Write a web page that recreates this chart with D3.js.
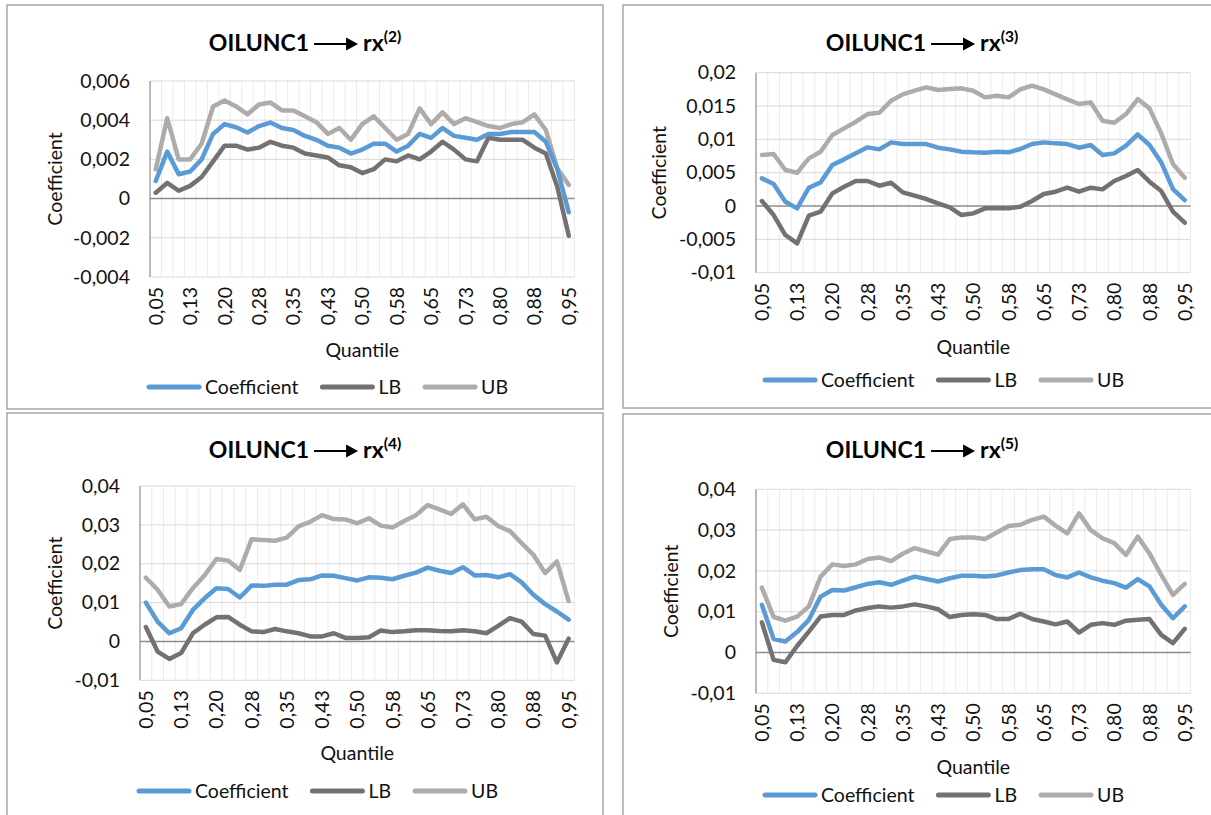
<!DOCTYPE html>
<html>
<head>
<meta charset="utf-8">
<script src="https://cdn.jsdelivr.net/npm/d3@7"></script>
<style>
  body { margin: 0; background: #fff; }
  svg { display: block; }
  text { font-family: Lato, "Open Sans", sans-serif; }
</style>
</head>
<body>
<svg id="chart" width="1211" height="815"></svg>
<script>
// Quantile grid shared by all four regressions
const quantiles = [0.05, 0.075, 0.1, 0.125, 0.15, 0.175, 0.2, 0.225, 0.25, 0.275, 0.3, 0.325,
  0.35, 0.375, 0.4, 0.425, 0.45, 0.475, 0.5, 0.525, 0.55, 0.575, 0.6, 0.625, 0.65, 0.675,
  0.7, 0.725, 0.75, 0.775, 0.8, 0.825, 0.85, 0.875, 0.9, 0.925, 0.95];
// Labels printed on every third category
const quantileTickLabels = ["0,05", "0,13", "0,20", "0,28", "0,35", "0,43", "0,50",
  "0,58", "0,65", "0,73", "0,80", "0,88", "0,95"];
const seriesNames = ["Coefficient", "LB", "UB"];

// OILUNC1 -> rx(2)
const coefRx2 = [0.0009, 0.0024, 0.00124, 0.00138, 0.002, 0.0033, 0.0038, 0.00364, 0.00337, 0.0037,
  0.00388, 0.0036, 0.0035, 0.0032, 0.003, 0.0027, 0.0026, 0.0023, 0.0025, 0.0028,
  0.0028, 0.0024, 0.0027, 0.0033, 0.0031, 0.0036, 0.0032, 0.0031, 0.003, 0.0033,
  0.0033, 0.0034, 0.0034, 0.0034, 0.0029, 0.0015, -0.0007];
const lbRx2 = [0.0003, 0.0008, 0.0004, 0.00065, 0.0011, 0.0019, 0.0027, 0.0027, 0.0025, 0.0026,
  0.0029, 0.0027, 0.0026, 0.0023, 0.0022, 0.0021, 0.0017, 0.0016, 0.0013, 0.0015,
  0.002, 0.0019, 0.0022, 0.002, 0.0024, 0.0029, 0.0025, 0.002, 0.0019, 0.0031,
  0.003, 0.003, 0.003, 0.0026, 0.0023, 0.0006, -0.0019];
const ubRx2 = [0.0015, 0.0041, 0.002, 0.002, 0.0028, 0.0047, 0.005, 0.0047, 0.0043, 0.0048,
  0.0049, 0.0045, 0.0045, 0.0042, 0.0039, 0.0033, 0.0036, 0.003, 0.0038, 0.0042,
  0.0036, 0.003, 0.0033, 0.0046, 0.0038, 0.0044, 0.0038, 0.0041, 0.0039, 0.0037,
  0.0036, 0.0038, 0.0039, 0.0043, 0.0035, 0.00155, 0.0007];

// OILUNC1 -> rx(3)
const coefRx3 = [0.00415, 0.0033, 0.00065, -0.00035, 0.00275, 0.00355, 0.00615, 0.007, 0.0079, 0.0088,
  0.0085, 0.00955, 0.0093, 0.0093, 0.0093, 0.00875, 0.0085, 0.00815, 0.00805, 0.008,
  0.00815, 0.00805, 0.00855, 0.0093, 0.00955, 0.0094, 0.0093, 0.00875, 0.00915, 0.00765,
  0.0079, 0.00905, 0.01075, 0.00915, 0.00655, 0.00255, 0.0009];
const lbRx3 = [0.00075, -0.00135, -0.00435, -0.0056, -0.00145, -0.00085, 0.0019, 0.0029, 0.00375, 0.00375,
  0.00305, 0.0035, 0.00205, 0.00155, 0.00105, 0.0004, -0.0002, -0.00135, -0.0011, -0.00035,
  -0.00035, -0.00035, -0.0001, 0.00075, 0.0018, 0.00215, 0.00275, 0.00215, 0.00275, 0.0025,
  0.00375, 0.0045, 0.0054, 0.00365, 0.00225, -0.00085, -0.0025];
const ubRx3 = [0.00765, 0.0078, 0.0054, 0.005, 0.00715, 0.00815, 0.01065, 0.01165, 0.01265, 0.0138,
  0.014, 0.0158, 0.01675, 0.0173, 0.0178, 0.0174, 0.01755, 0.01765, 0.0173, 0.0163,
  0.01655, 0.0163, 0.0175, 0.01805, 0.0175, 0.01675, 0.016, 0.0153, 0.01555, 0.0128,
  0.0125, 0.0138, 0.01605, 0.01465, 0.0109, 0.0063, 0.00425];

// OILUNC1 -> rx(4)
const coefRx4 = [0.01, 0.0051, 0.0021, 0.0034, 0.0081, 0.0111, 0.0137, 0.0135, 0.0113, 0.0144,
  0.0143, 0.0146, 0.0146, 0.0158, 0.016, 0.017, 0.0169, 0.0163, 0.0157, 0.0165,
  0.0164, 0.016, 0.0169, 0.0177, 0.019, 0.0182, 0.0176, 0.0191, 0.017, 0.0171,
  0.0165, 0.0173, 0.0152, 0.012, 0.0096, 0.0077, 0.0056];
const lbRx4 = [0.0037, -0.0026, -0.0045, -0.003, 0.0021, 0.0043, 0.0062, 0.0063, 0.0043, 0.0026,
  0.0024, 0.0032, 0.0026, 0.0021, 0.0013, 0.0013, 0.0021, 0.0009, 0.0009, 0.0011,
  0.0028, 0.0024, 0.0026, 0.0029, 0.0029, 0.0027, 0.0026, 0.0029, 0.0026, 0.0021,
  0.004, 0.006, 0.0051, 0.0019, 0.0015, -0.0054, 0.0007];
const ubRx4 = [0.0164, 0.0133, 0.009, 0.0096, 0.0137, 0.017, 0.0212, 0.0208, 0.0184, 0.0263,
  0.0261, 0.0259, 0.0267, 0.0296, 0.0308, 0.0325, 0.0315, 0.0314, 0.0304, 0.0317,
  0.0298, 0.0293, 0.031, 0.0325, 0.0351, 0.034, 0.0328, 0.0353, 0.0314, 0.0321,
  0.0297, 0.0284, 0.0253, 0.0223, 0.0176, 0.0206, 0.0104];

// OILUNC1 -> rx(5)
const coefRx5 = [0.0117, 0.0033, 0.0027, 0.005, 0.008, 0.0137, 0.0153, 0.0152, 0.016, 0.0168,
  0.0172, 0.0166, 0.0176, 0.0186, 0.018, 0.0174, 0.0182, 0.0188, 0.0188, 0.0186,
  0.0189, 0.0196, 0.0202, 0.0204, 0.0204, 0.019, 0.0184, 0.0196, 0.0184, 0.0176,
  0.017, 0.0159, 0.018, 0.0162, 0.0117, 0.0084, 0.0113];
const lbRx5 = [0.0074, -0.0018, -0.0024, 0.0016, 0.0051, 0.0088, 0.0092, 0.0092, 0.0103, 0.0109,
  0.0113, 0.011, 0.0113, 0.0118, 0.0113, 0.0106, 0.0087, 0.0092, 0.0094, 0.0092,
  0.0082, 0.0082, 0.0095, 0.0082, 0.0076, 0.0069, 0.0076, 0.0049, 0.0068, 0.0072,
  0.0068, 0.0078, 0.008, 0.0082, 0.0043, 0.0023, 0.0058];
const ubRx5 = [0.0159, 0.0087, 0.0078, 0.0088, 0.0113, 0.0186, 0.0216, 0.0212, 0.0216, 0.0229,
  0.0233, 0.0224, 0.0242, 0.0256, 0.0248, 0.024, 0.0278, 0.0282, 0.0282, 0.0278,
  0.0294, 0.031, 0.0313, 0.0325, 0.0333, 0.0311, 0.0292, 0.0341, 0.03, 0.028,
  0.0268, 0.0239, 0.0284, 0.0243, 0.019, 0.0141, 0.0168];

const seriesColors = ["#5b9bd5", "#767171", "#afabab"];

// Panel geometry
const panels = [
  { sup: "2", series: [coefRx2, lbRx2, ubRx2], yDomain: [-0.004, 0.006], yCount: 5,
    box: [7, 5, 603, 409], plot: [150, 81, 574.5, 277], titleX: 305, titleY: 51,
    yTitleX: 55, xTitleY: 357, legendX: 147, legendY: 387 },
  { sup: "3", series: [coefRx3, lbRx3, ubRx3], yDomain: [-0.01, 0.02], yCount: 6,
    box: [623, 5, 1220, 408], plot: [756, 72.7, 1190.6, 272.7], titleX: 922, titleY: 51,
    yTitleX: 659, xTitleY: 354, legendX: 763, legendY: 380 },
  { sup: "4", series: [coefRx4, lbRx4, ubRx4], yDomain: [-0.01, 0.04], yCount: 5,
    box: [7, 413, 603, 830], plot: [140, 486, 574.5, 680.3], titleX: 305, titleY: 458,
    yTitleX: 55, xTitleY: 760, legendX: 137, legendY: 791 },
  { sup: "5", series: [coefRx5, lbRx5, ubRx5], yDomain: [-0.01, 0.04], yCount: 5,
    box: [623, 414, 1220, 830], plot: [756, 489.3, 1190.6, 693.3], titleX: 922, titleY: 458,
    yTitleX: 671, xTitleY: 774, legendX: 763, legendY: 795 }
];

const locale = d3.formatLocale({ decimal: ",", thousands: ".", grouping: [3], currency: ["", ""], minus: "-" });
const fmt = locale.format("~g");

const svg = d3.select("#chart");
const FONT = 19.5;
const INK = "#111";

panels.forEach(p => {
  const g = svg.append("g");
  const [bx0, by0, bx1, by1] = p.box;
  g.append("rect")
    .attr("x", bx0).attr("y", by0)
    .attr("width", bx1 - bx0).attr("height", by1 - by0)
    .attr("fill", "#fff").attr("stroke", "#a6a6a6").attr("stroke-width", 1.5);

  const [px0, py0, px1, py1] = p.plot;
  const x = d3.scaleBand().domain(d3.range(quantiles.length)).range([px0, px1]).paddingInner(0).paddingOuter(0);
  const y = d3.scaleLinear().domain(p.yDomain).range([py1, py0]);
  const cx = i => x(i) + x.bandwidth() / 2;

  // vertical gridlines at category boundaries
  const bounds = d3.range(quantiles.length + 1).map(i => i < quantiles.length ? x(i) : px1);
  g.append("g").selectAll("line").data(bounds.slice(1)).join("line")
    .attr("x1", d => d).attr("x2", d => d).attr("y1", py0).attr("y2", py1)
    .attr("stroke", "#ebebeb").attr("stroke-width", 1);

  // horizontal gridlines + y labels
  const yTicks = y.ticks(p.yCount);
  g.append("g").selectAll("line").data(yTicks.filter(t => t !== 0)).join("line")
    .attr("x1", px0).attr("x2", px1).attr("y1", d => y(d)).attr("y2", d => y(d))
    .attr("stroke", "#d9d9d9").attr("stroke-width", 1);

  const yAxis = g.append("g").attr("transform", `translate(${px0},0)`)
    .call(d3.axisLeft(y).tickValues(yTicks).tickSize(0).tickPadding(20).tickFormat(d => fmt(d)));
  yAxis.select(".domain").remove();
  yAxis.selectAll("text").attr("font-size", FONT).attr("fill", INK)
    .style("font-family", "Lato, 'Open Sans', sans-serif");

  // value axis line
  g.append("line").attr("x1", px0).attr("x2", px0).attr("y1", py0).attr("y2", py1)
    .attr("stroke", "#8c8c8c").attr("stroke-width", 1.2);
  // zero line (category axis)
  g.append("line").attr("x1", px0).attr("x2", px1).attr("y1", y(0)).attr("y2", y(0))
    .attr("stroke", "#8c8c8c").attr("stroke-width", 1.5);

  // category labels, rotated, placed below the plot
  const labelIdx = d3.range(quantiles.length).filter(i => i % 3 === 0);
  const xAxis = g.append("g").attr("transform", `translate(0,${py1})`)
    .call(d3.axisBottom(x).tickValues(labelIdx).tickSize(0)
      .tickFormat((d, k) => quantileTickLabels[k]));
  xAxis.select(".domain").remove();
  xAxis.selectAll("text")
    .attr("font-size", FONT).attr("fill", INK)
    .style("font-family", "Lato, 'Open Sans', sans-serif")
    .attr("text-anchor", "end")
    .attr("transform", "rotate(-90)")
    .attr("x", -10).attr("y", 0).attr("dy", "0.36em");

  // series lines
  const line = d3.line().x((d, i) => cx(i)).y(d => y(d));
  [2, 1, 0].forEach(s => {
    g.append("path").datum(p.series[s])
      .attr("d", line).attr("fill", "none")
      .attr("stroke", seriesColors[s]).attr("stroke-width", 4.5)
      .attr("stroke-linejoin", "round").attr("stroke-linecap", "round");
  });

  // axis titles
  g.append("text").attr("transform", `translate(${p.yTitleX},${(py0 + py1) / 2}) rotate(-90)`)
    .attr("text-anchor", "middle").attr("dy", "0.35em")
    .attr("font-size", FONT).attr("fill", INK).text("Coefficient");
  g.append("text").attr("x", (px0 + px1) / 2).attr("y", p.xTitleY)
    .attr("text-anchor", "middle").attr("font-size", FONT).attr("fill", INK).text("Quantile");

  // chart title: OILUNC1 -> rx^(h)
  const tg = g.append("g");
  const t1 = tg.append("text").attr("x", 0).attr("y", 0)
    .attr("font-size", 23).attr("font-weight", "bold").attr("fill", "#000").text("OILUNC1");
  const w1 = t1.node().getComputedTextLength();
  const ax0 = w1 + 5, ax1 = ax0 + 44, ay = -7;
  tg.append("line").attr("x1", ax0).attr("x2", ax1 - 10).attr("y1", ay).attr("y2", ay)
    .attr("stroke", "#000").attr("stroke-width", 2);
  tg.append("path")
    .attr("d", `M${ax1 - 12},${ay - 6.5} L${ax1},${ay} L${ax1 - 12},${ay + 6.5} Z`)
    .attr("fill", "#000");
  const t2 = tg.append("text").attr("x", ax1 + 5).attr("y", 0)
    .attr("font-size", 23).attr("font-weight", "bold").attr("fill", "#000");
  t2.append("tspan").text("rx");
  t2.append("tspan").attr("font-size", 15.5).attr("dy", -9.5).text(`(${p.sup})`);
  const tw = t2.node().getBBox();
  const total = tw.x + tw.width;
  tg.attr("transform", `translate(${p.titleX - total / 2},${p.titleY})`);

  // legend
  const lg = g.append("g").attr("transform", `translate(${p.legendX},${p.legendY})`);
  let lx = 0;
  seriesNames.forEach((name, s) => {
    lg.append("line").attr("x1", lx + 2).attr("x2", lx + 52).attr("y1", 0).attr("y2", 0)
      .attr("stroke", seriesColors[s]).attr("stroke-width", 5).attr("stroke-linecap", "round");
    const t = lg.append("text").attr("x", lx + 58).attr("y", 0).attr("dy", "0.35em")
      .attr("font-size", FONT).attr("fill", INK).text(name);
    lx += 58 + t.node().getComputedTextLength() + 22;
  });
});
</script>
</body>
</html>
